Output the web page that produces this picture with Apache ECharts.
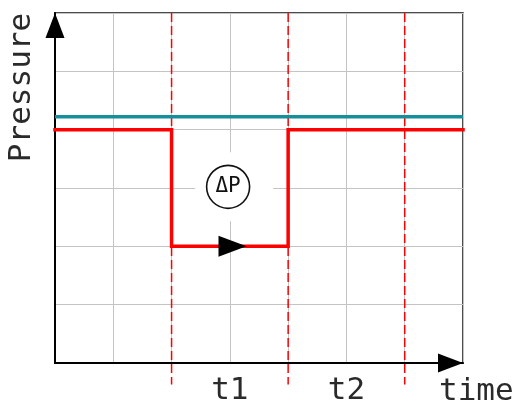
<!DOCTYPE html>
<html>
<head>
<meta charset="utf-8">
<script src="https://cdn.jsdelivr.net/npm/echarts@6/dist/echarts.min.js"></script>
<style>
html,body{margin:0;padding:0;background:#fff;}
#chart{width:518px;height:420px;}
</style>
</head>
<body>
<div id="chart"></div>
<script>
// ---- data ----
const xMin = 0, xMax = 7, yMin = 0, yMax = 6;
const tickLabels = ['', '', '', 't1', '', 't2', '', ''];
const axisNameX = 'time';
const axisNameY = 'Pressure';
const redX = [0, 2, 2, 4, 4, 7];
const redY = [4, 4, 2, 2, 4, 4];
const tealX = [0, 7];
const tealY = [4.22, 4.22];
const markerX = [2, 4, 6];
const markerTop = 6;
const markerBottom = -0.37;
const deltaPPoint = [2.97, 3.02];
const deltaPText = 'ΔP';
const flowArrowPoint = [3.045, 2];

// ---- build ----
const FONT = 'DejaVu Sans Mono';
const zip = (xs, ys) => xs.map((x, i) => [x, ys[i]]);

const series = [];
markerX.forEach(function (mx) {
  series.push({
    type: 'line', clip: false, silent: true, showSymbol: false, symbol: 'none', z: 2,
    data: [[mx, markerTop], [mx, markerBottom]],
    lineStyle: { color: '#ff0000', width: 1.5, type: [9, 4] }
  });
});
series.push({
  type: 'line', showSymbol: false, symbol: 'none', z: 3, clip: false,
  data: zip(tealX, tealY),
  lineStyle: { color: '#148f9b', width: 3.5 }
});
series.push({
  type: 'line', showSymbol: false, symbol: 'none', z: 4, clip: false,
  data: zip(redX, redY),
  lineStyle: { color: '#ff0000', width: 3.5, join: 'miter', cap: 'square' }
});
series.push({
  type: 'scatter', z: 5, silent: true,
  data: [flowArrowPoint],
  symbol: 'triangle', symbolSize: [21, 28], symbolRotate: -90,
  itemStyle: { color: '#000', opacity: 1 }
});
series.push({
  type: 'scatter', z: 5, silent: true,
  data: [deltaPPoint],
  symbol: 'rect', symbolSize: [78, 69], symbolOffset: [6, 0],
  itemStyle: { color: '#ffffff', opacity: 1 }
});
series.push({
  type: 'scatter', z: 6, silent: true,
  data: [deltaPPoint],
  symbol: 'circle', symbolSize: 43,
  itemStyle: { color: '#ffffff', borderColor: '#111', borderWidth: 1.6, opacity: 1 },
  label: { show: true, position: 'inside', formatter: deltaPText, fontFamily: FONT, fontSize: 21, color: '#111' }
});

const chart = echarts.init(document.getElementById('chart'), null, { renderer: 'canvas' });
chart.setOption({
  animation: false,
  backgroundColor: '#ffffff',
  grid: { left: 55, right: 55, top: 13, bottom: 57, show: true, borderColor: '#111', borderWidth: 1.5, backgroundColor: 'transparent' },
  xAxis: {
    type: 'value', min: xMin, max: xMax, interval: 1,
    axisLine: { show: true, lineStyle: { color: '#000', width: 2 }, symbol: ['none', 'triangle'], symbolSize: [19, 25], symbolOffset: [0, -12.5] },
    axisTick: { show: false },
    splitLine: { show: true, lineStyle: { color: '#c4c4c4', width: 1 } },
    axisLabel: { show: true, margin: 12, fontFamily: FONT, fontSize: 31, color: '#2a2a2a', showMinLabel: true, showMaxLabel: true,
      formatter: function (v) { return tickLabels[Math.round(v)] || ''; } }
  },
  yAxis: {
    type: 'value', min: yMin, max: yMax, interval: 1,
    axisLine: { show: true, lineStyle: { color: '#000', width: 2 }, symbol: ['none', 'triangle'], symbolSize: [19, 25], symbolOffset: [0, -12.5] },
    axisTick: { show: false },
    axisLabel: { show: false },
    splitLine: { show: true, lineStyle: { color: '#c4c4c4', width: 1 } }
  },
  graphic: [
    { type: 'text', x: 21.5, y: 87.5, rotation: Math.PI / 2, z: 10,
      style: { text: axisNameY, font: '31px "' + FONT + '"', fill: '#2a2a2a', align: 'center', verticalAlign: 'middle' } },
    { type: 'text', x: 439, y: 376, z: 10,
      style: { text: axisNameX, font: '31px "' + FONT + '"', fill: '#2a2a2a', align: 'left', verticalAlign: 'top' } }
  ],
  series: series
});
</script>
</body>
</html>
